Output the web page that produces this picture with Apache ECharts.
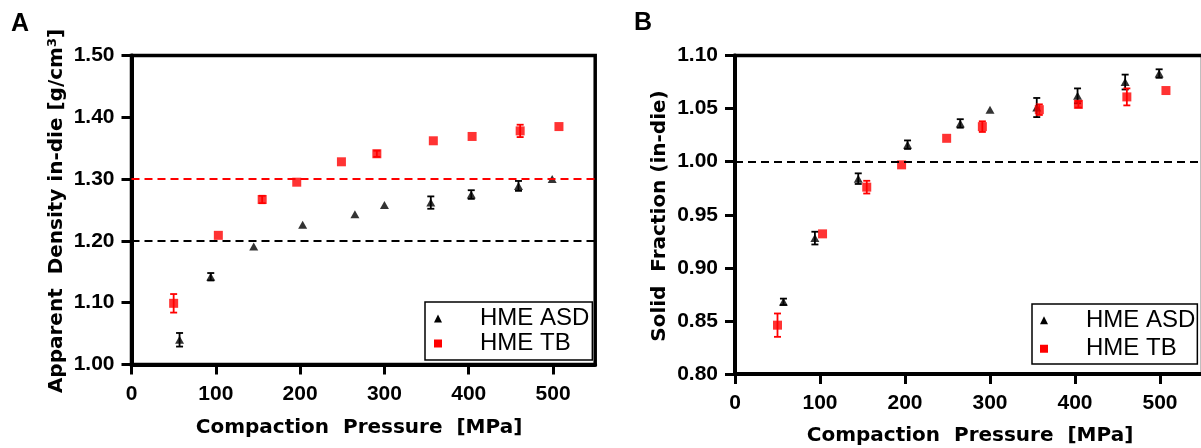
<!DOCTYPE html>
<html>
<head>
<meta charset="utf-8">
<script src="https://cdn.jsdelivr.net/npm/echarts@6/dist/echarts.min.js"></script>
<style>
  html, body { margin: 0; padding: 0; background: #fff; }
  #chart { width: 1201px; height: 448px; }
</style>
</head>
<body>
<div id="chart"></div>
<script>
// Compaction pressure [MPa] (same for both panels)
const pressureAsd = [57, 94, 145, 203, 265, 300, 355, 403, 459, 499];
const pressureTb = [50, 103, 155, 196, 249, 291, 358, 404, 461, 507];

// Panel A: apparent density in-die [g/cm3], mean and SD
const densityAsd = [1.040, 1.142, 1.191, 1.226, 1.243, 1.258, 1.262, 1.275, 1.289, 1.300];
const densityAsdSd = [0.011, 0.006, 0, 0, 0, 0, 0.010, 0.007, 0.008, 0];
const densityTb = [1.099, 1.209, 1.267, 1.295, 1.328, 1.341, 1.362, 1.369, 1.378, 1.385];
const densityTbSd = [0.015, 0, 0.006, 0, 0, 0.005, 0, 0, 0.010, 0];

// Panel B: solid fraction in-die, mean and SD
const fractionAsd = [0.868, 0.928, 0.984, 1.016, 1.036, 1.049, 1.051, 1.062, 1.075, 1.083];
const fractionAsdSd = [0.003, 0.006, 0.005, 0.004, 0.004, 0, 0.009, 0.007, 0.007, 0.004];
const fractionTb = [0.846, 0.932, 0.976, 0.997, 1.022, 1.033, 1.049, 1.054, 1.061, 1.067];
const fractionTbSd = [0.011, 0, 0.006, 0, 0, 0.005, 0.005, 0.003, 0.008, 0];

// reference lines (true density 1.20 / 1.30, solid fraction 1.00)
const refLinesA = [1.2, 1.3];
const refLinesB = [1.0];

const xTicks = [0, 100, 200, 300, 400, 500];
const seriesNames = ['HME ASD', 'HME TB'];

const RED = '#ff0000';
const BLACK = '#000000';
const TICK_FONT = 'Liberation Sans, Arial, sans-serif';
const TITLE_FONT = 'DejaVu Sans, sans-serif';

function points(xs, ys) {
  return xs.map((x, i) => [x, ys[i]]);
}

function bars(xs, ys, sd) {
  return xs.map((x, i) => [x, ys[i] - sd[i], ys[i] + sd[i]]);
}

// вертикальная планка погрешности с засечками
function errorBar(params, api) {
  const lo = api.value(1);
  const hi = api.value(2);
  if (hi - lo < 1e-9) return null;
  const top = api.coord([api.value(0), hi]);
  const bot = api.coord([api.value(0), lo]);
  const half = 3.5;
  const style = { stroke: api.visual('color'), lineWidth: 1.8 };
  return {
    type: 'group',
    children: [
      { type: 'line', shape: { x1: top[0], y1: top[1], x2: bot[0], y2: bot[1] }, style },
      { type: 'line', shape: { x1: top[0] - half, y1: top[1], x2: top[0] + half, y2: top[1] }, style },
      { type: 'line', shape: { x1: bot[0] - half, y1: bot[1], x2: bot[0] + half, y2: bot[1] }, style },
    ],
  };
}

function xAxisFor(gridIndex) {
  return {
    type: 'value', gridIndex, min: 0, max: 550,
    axisLine: { show: true, lineStyle: { color: BLACK, width: 4 } },
    axisTick: { show: true, length: 10, customValues: xTicks, lineStyle: { color: BLACK, width: 3 } },
    axisLabel: {
      customValues: xTicks, margin: 19, color: BLACK,
      fontFamily: TICK_FONT, fontWeight: 'bold', fontSize: 21,
    },
    splitLine: { show: false },
  };
}

function yAxisFor(gridIndex, min, max, interval) {
  return {
    type: 'value', gridIndex, min, max, interval,
    axisLine: { show: true, lineStyle: { color: BLACK, width: 4 } },
    axisTick: { show: true, length: 10, lineStyle: { color: BLACK, width: 3 } },
    axisLabel: {
      margin: 17, color: BLACK, fontFamily: TICK_FONT, fontWeight: 'bold', fontSize: 21,
      formatter: v => v.toFixed(2),
    },
    splitLine: { show: false },
  };
}

function refLines(values, colors) {
  return {
    silent: true,
    symbol: 'none',
    label: { show: false },
    data: values.map((v, i) => ({
      yAxis: v,
      lineStyle: { color: colors[i], type: [8, 5], width: 2 },
    })),
  };
}

function panelSeries(idx, asd, asdSd, tb, tbSd, markLine) {
  return [
    {
      type: 'custom', name: seriesNames[0], xAxisIndex: idx, yAxisIndex: idx,
      renderItem: errorBar, itemStyle: { color: BLACK }, z: 2,
      data: bars(pressureAsd, asd, asdSd),
    },
    {
      type: 'custom', name: seriesNames[1], xAxisIndex: idx, yAxisIndex: idx,
      renderItem: errorBar, itemStyle: { color: RED }, z: 2,
      data: bars(pressureTb, tb, tbSd),
    },
    {
      type: 'scatter', name: seriesNames[0], xAxisIndex: idx, yAxisIndex: idx,
      symbol: 'triangle', symbolSize: [9, 8], itemStyle: { color: BLACK }, z: 3,
      data: points(pressureAsd, asd),
      markLine,
    },
    {
      type: 'scatter', name: seriesNames[1], xAxisIndex: idx, yAxisIndex: idx,
      symbol: 'rect', symbolSize: 9, itemStyle: { color: RED }, z: 3,
      data: points(pressureTb, tb),
    },
  ];
}

function legendFor(left, top, padding, lineHeight) {
  return {
    orient: 'vertical', left, top, padding,
    itemGap: 0, itemWidth: 8, itemHeight: 8,
    borderColor: BLACK, borderWidth: 1.5,
    data: seriesNames.map(name => ({ name, icon: name === seriesNames[0] ? 'triangle' : 'rect' })),
    formatter: name => '{g|}' + name,
    textStyle: {
      color: BLACK, fontFamily: TICK_FONT, fontSize: 24, lineHeight,
      rich: { g: { width: 33 } },
    },
    selectedMode: false,
  };
}

function titleText(x, y, text, rotated, extra) {
  return {
    type: 'text', x, y, rotation: rotated ? Math.PI / 2 : 0,
    style: Object.assign({
      text, fill: BLACK, fontFamily: TITLE_FONT, fontWeight: 'bold', fontSize: 20,
      align: 'center', verticalAlign: 'middle',
    }, extra || {}),
  };
}

const chart = echarts.init(document.getElementById('chart'));

chart.setOption({
  backgroundColor: '#ffffff',
  animation: false,
  grid: [
    { left: 131.5, top: 55.5, width: 463.7, height: 309, show: true, borderColor: BLACK, borderWidth: 3.5, outerBoundsMode: 'none' },
    { left: 735, top: 55.5, width: 467.5, height: 318.5, show: true, borderColor: BLACK, borderWidth: 3.5, outerBoundsMode: 'none' },
  ],
  xAxis: [xAxisFor(0), xAxisFor(1)],
  yAxis: [yAxisFor(0, 1.0, 1.5, 0.1), yAxisFor(1, 0.8, 1.1, 0.05)],
  legend: [
    legendFor(425, 302, [4, 3, 4, 9], 25),
    legendFor(1032, 304, [2, 2, 1, 8], 28.5),
  ],
  series: [
    ...panelSeries(0, densityAsd, densityAsdSd, densityTb, densityTbSd, refLines(refLinesA, [BLACK, RED])),
    ...panelSeries(1, fractionAsd, fractionAsdSd, fractionTb, fractionTbSd, refLines(refLinesB, [BLACK])),
  ],
  graphic: [
    titleText(20, 24, 'A', false, { fontFamily: TICK_FONT, fontSize: 25 }),
    titleText(643, 23, 'B', false, { fontFamily: TICK_FONT, fontSize: 25 }),
    titleText(57, 211, 'Apparent  Density in-die [g/cm{sup|3}]', true, {
      rich: { sup: { fontFamily: TITLE_FONT, fontWeight: 'bold', fontSize: 13, verticalAlign: 'top', padding: [0, 0, 8, 0] } },
    }),
    titleText(660, 216, 'Solid  Fraction (in-die)', true),
    titleText(359, 428, 'Compaction  Pressure  [MPa]', false),
    titleText(970, 436, 'Compaction  Pressure  [MPa]', false),
  ],
});
</script>
</body>
</html>
